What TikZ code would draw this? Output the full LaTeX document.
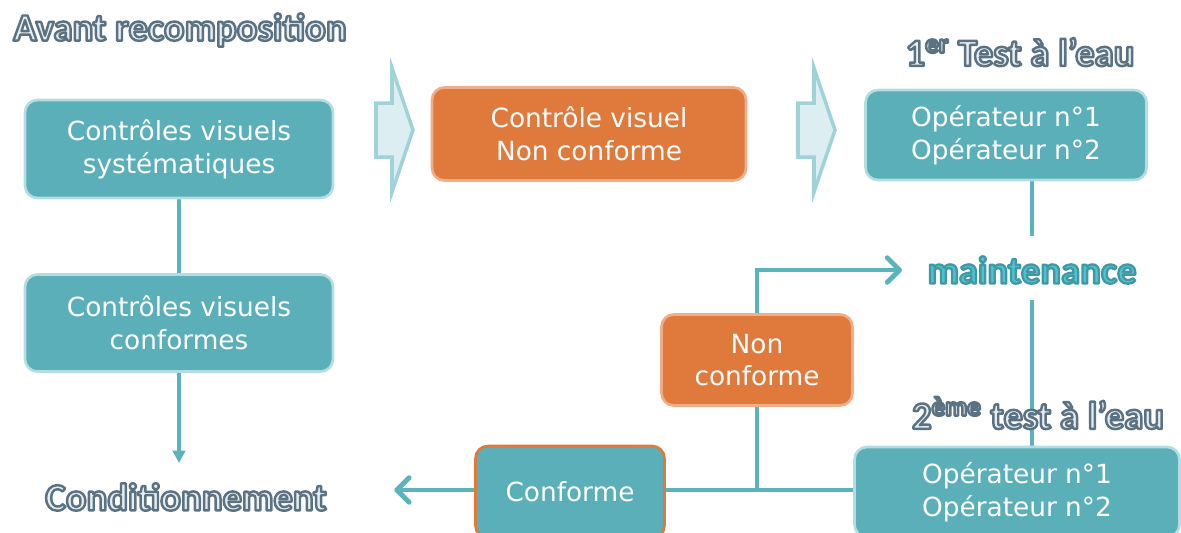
\documentclass[tikz,border=0pt]{standalone}
\usepackage{fontspec}
\setmainfont{DejaVu Sans}
\newfontfamily\titlefont{Carlito}
\usetikzlibrary{arrows.meta,backgrounds}
\definecolor{tealbox}{HTML}{5AAFB8}
\definecolor{tealglow}{HTML}{B3DDE1}
\definecolor{tealline}{HTML}{5BB3BB}
\definecolor{orangebox}{HTML}{E0793C}
\definecolor{orangeglow}{HTML}{EFAE88}
\definecolor{titlefill}{HTML}{E6ECF0}
\definecolor{maintfill}{HTML}{4DC3CF}
\definecolor{chevfill}{HTML}{DCEEF1}
\definecolor{chevedge}{HTML}{9FD3D8}
% outlined text: fill + stroke
\newcommand\titre[1]{\special{pdf:literal 0.357 0.447 0.51 RG 1.4 w 1 j 2 Tr}#1\special{pdf:literal 0 Tr}}
\newcommand\maintxt[1]{\special{pdf:literal 0.247 0.596 0.639 RG 1.3 w 1 j 2 Tr}#1\special{pdf:literal 0 Tr}}

\begin{document}
\begin{tikzpicture}[x=0.02cm,y=-0.02cm,
		box/.style={rounded corners=7pt,fill=tealbox,draw=tealglow,line width=1.5pt,text=white,align=center,
			font=\fontsize{15}{18.7}\selectfont,inner sep=0pt},
		warn/.style={box,fill=orangebox,draw=orangeglow},
		titletext/.style={font=\titlefont\bfseries\fontsize{22}{24}\selectfont,text=titlefill},
		link/.style={draw=tealline,line width=2.8pt},
		thinlink/.style={draw=tealline,line width=1.8pt},
		chevron/.style={fill=chevfill,draw=chevedge,line width=2pt,line join=miter}]
		\clip (0,0) rectangle (1181,532);
		% left column
		\node[titletext] (avant) at (180,30) {\titre{Avant recomposition}};
		\node[box,minimum width=6.16cm,minimum height=1.96cm] (cvs) at (179,149) {Contrôles visuels\\systématiques};
		\node[box,minimum width=6.16cm,minimum height=1.94cm] (cvc) at (179,323) {Contrôles visuels\\conformes};
		\node[titletext] (cond) at (186,497) {\titre{Conditionnement}};
		% top row
		\draw[chevron] (376,103) -- (392,103) -- (392,68) -- (413,130) -- (392,192) -- (392,157) -- (376,157) -- cycle;
		\node[warn,minimum width=6.28cm,minimum height=1.86cm] (cvnc) at (589,134) {Contrôle visuel\\Non conforme};
		\draw[chevron] (798,103) -- (814,103) -- (814,68) -- (835,130) -- (814,192) -- (814,157) -- (798,157) -- cycle;
		\node[titletext] (test1) at (1020,52) {\titre{1\textsuperscript{er} Test à l’eau}};
		\node[box,minimum width=5.62cm,minimum height=1.8cm] (op1) at (1006,135) {Opérateur n°1\\Opérateur n°2};
		% right column
		\node[titletext,text=maintfill] (maint) at (1032,270) {\maintxt{maintenance}};
		\node[warn,minimum width=3.82cm,minimum height=1.82cm] (nc) at (757,360) {Non\\conforme};
		\node[titletext] (test2) at (1038,413) {\titre{2\textsuperscript{ème} test à l’eau}};
		\node[box,minimum width=6.5cm,minimum height=1.8cm] (op2) at (1017,492) {Opérateur n°1\\Opérateur n°2};
		\node[box,draw=orangebox,minimum width=3.78cm,minimum height=1.84cm] (conf) at (570,492) {Conforme};
		\coordinate (jct) at (757,490);
		\begin{scope}[on background layer]
			\draw[thinlink] (cvs) -- (cvc);
			\draw[thinlink,-{Triangle[length=7pt,width=7pt]}] (cvc.south) -- ([yshift=8pt]cvc.south |- cond.north);
			\draw[link,shorten >=8pt] (op1.south -| maint) -- (maint);
			\draw[link,shorten <=6pt] (maint) -- (op2.north -| maint);
			\draw[link] (op2.west |- jct) -- (conf.east |- jct);
			\draw[link,-{Straight Barb[round,length=7pt,width=14pt]},shorten >=35pt] (conf.west |- jct) -- (cond.east |- jct);
			\draw[link,-{Straight Barb[round,length=7pt,width=14pt]},shorten >=11pt] (jct) |- (maint.west);
		\end{scope}
	\end{tikzpicture}
\end{document}
